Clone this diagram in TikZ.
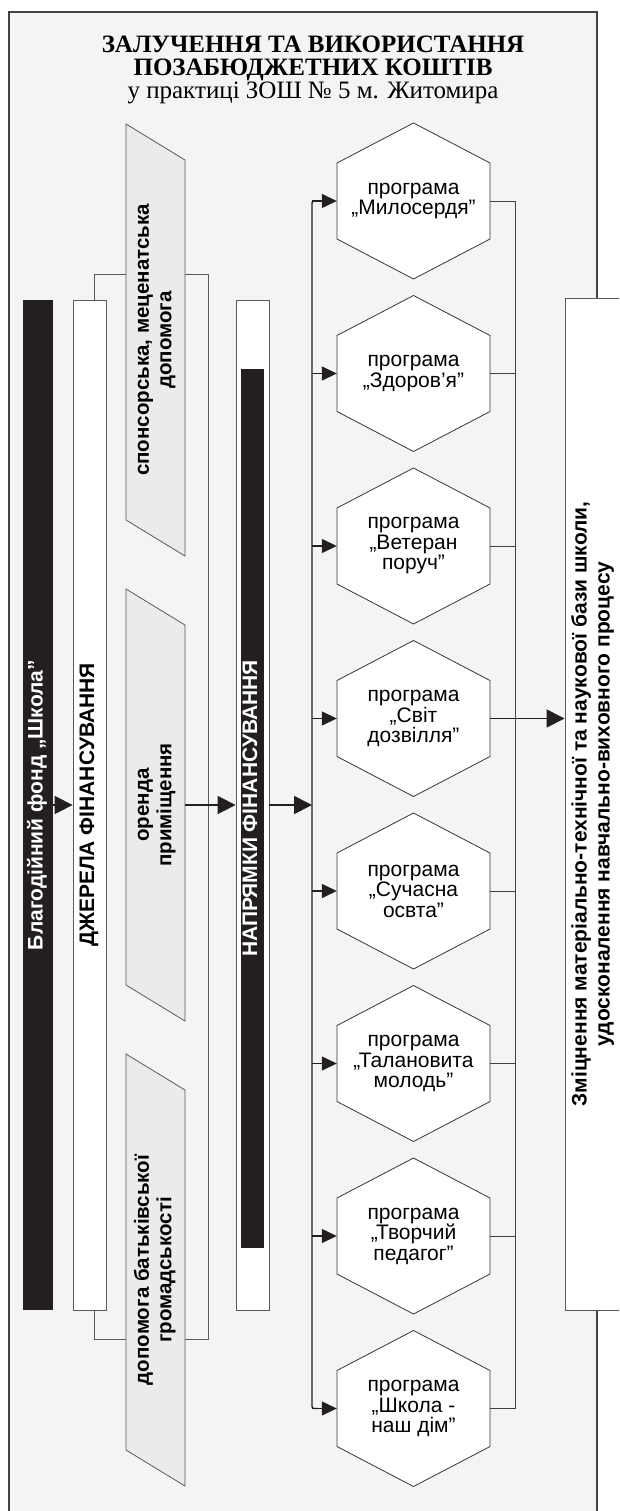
\documentclass[tikz,border=0pt]{standalone}
\usepackage{fontspec}
\setmainfont{Liberation Sans}
\newfontfamily\titlefont{Liberation Serif}
\usetikzlibrary{arrows.meta,calc}

\definecolor{ink}{HTML}{231F20}
\definecolor{edge}{HTML}{5A5A5A}
\definecolor{paper}{HTML}{F4F4F4}
\definecolor{srcfill}{HTML}{EBEBEB}

\newcommand\vlab[1]{\rotatebox{90}{\begin{tabular}{@{}c@{}}#1\end{tabular}}}

\tikzset{
  frame/.style={draw=ink!85, line width=1.3pt, fill=paper},
  thinline/.style={draw=edge, line width=0.8pt},
  whitebar/.style={draw=edge, line width=0.8pt, fill=white, inner sep=0pt,
    minimum width=33pt, minimum height=1010pt},
  blackbar/.style={fill=ink, text=white, inner sep=0pt,
    minimum width=30pt, minimum height=1010pt},
  bartext/.style={font=\bfseries\fontsize{21}{23}\selectfont},
  srcbox/.style={draw=edge, line width=0.8pt, fill=srcfill},
  srctext/.style={inner sep=0pt, minimum width=59pt, minimum height=360pt,
    font=\bfseries\fontsize{20.5}{22.5}\selectfont},
  hexa/.style={draw=ink!90, line width=0.8pt, fill=white},
  prog/.style={inner sep=0pt, minimum width=153pt, minimum height=76pt,
    align=center, font=\fontsize{21}{20.5}\selectfont},
  titletxt/.style={font=\titlefont\fontsize{25}{23}\selectfont,
    inner sep=0pt, align=center},
  bigarrow/.style={draw=ink, line width=1.6pt, -{Triangle[length=18pt,width=18pt]}},
  feed/.style={draw=ink, line width=1.4pt, -{Triangle[length=15pt,width=14pt]}},
  feedline/.style={draw=ink, line width=1.4pt},
  backline/.style={draw=ink!85, line width=0.9pt},
}

\begin{document}
\begin{tikzpicture}[x=1pt,y=-1pt]

  \newcommand\hexstep{172.5}
  \useasboundingbox (0,0) rectangle (619,1511);
  \clip (0,0) rectangle (619,1511);

  %% outer frame
  \filldraw[frame] (9,12) rectangle (597,1530);

  %% title
  \node[titletxt, anchor=north] (title) at (313,36)
    {\textbf{ЗАЛУЧЕННЯ ТА ВИКОРИСТАННЯ}\\
     \textbf{ПОЗАБЮДЖЕТНИХ КОШТІВ}\\
     у практиці ЗОШ № 5 м. Житомира};

  %% bracket behind the sources
  \draw[thinline] (94,274) rectangle (208,1339);

  %% fund and sources
  \node[blackbar, bartext] (fond) at (38,805) {\vlab{Благодійний фонд „Школа”}};
  \node[whitebar, bartext] (dzh) at (89.5,805) {\vlab{ДЖЕРЕЛА ФІНАНСУВАННЯ}};

  \foreach \c/\txt [count=\i from 0] in
    {340/{спонсорська, меценатська\\допомога},
     805/{оренда\\приміщення},
     1270/{допомога батьківської\\громадськості}}
  {
    \filldraw[srcbox] (126,\c-216) -- (185,\c-180) -- (185,\c+216)
      -- (126,\c+180) -- cycle;
    \node[srctext] (s\i) at (155.5,\c) {\vlab{\txt}};
  }

  %% directions
  \node[whitebar] (naprw) at (252.5,805) {};
  \node[blackbar, bartext, minimum width=23pt, minimum height=879pt]
    (napr) at (252.5,808.5) {\vlab{НАПРЯМКИ ФІНАНСУВАННЯ}};

  \coordinate (lcol) at (312,805);
  \coordinate (rcol) at (515,805);

  %% programmes
  \foreach \txt [count=\i from 0] in
    {{програма\\„Милосердя”},
     {програма\\„Здоров’я”},
     {програма\\„Ветеран\\поруч”},
     {програма\\„Світ\\дозвілля”},
     {програма\\„Сучасна\\освта”},
     {програма\\„Талановита\\молодь”},
     {програма\\„Творчий\\педагог”},
     {програма\\„Школа -\\наш дім”}}
  {
    \pgfmathsetmacro\yy{201+\hexstep*\i}
    \filldraw[hexa] (337,\yy-38) -- (413.5,\yy-78) -- (490,\yy-38)
      -- (490,\yy+38) -- (413.5,\yy+78) -- (337,\yy+38) -- cycle;
    \node[prog] (p\i) at (413.5,\yy) {\txt};
  }

  %% result
  \node[whitebar, bartext, minimum width=57pt, minimum height=1012pt]
    (result) at (593.5,804)
    {\vlab{Зміцнення матеріально-технічної та наукової бази школи,\\
      удосконалення навчально-виховного процесу}};

  %% arrows
  \draw[bigarrow] (fond.east) -- (dzh.west);
  \draw[bigarrow] (s1.east) -- (naprw.west);
  \draw[bigarrow] (naprw.east) -- (naprw.east -| lcol);

  \draw[feedline, rounded corners=2pt] ($(p0.west -| lcol)+(6,0)$)
    -- (p0.west -| lcol) -- (p7.west -| lcol) -- ++(6,0);
  \foreach \i in {0,...,7}
    \draw[feed] (p\i.west -| lcol) -- (p\i.west);

  \draw[backline] (p0.east) -- (p0.east -| rcol) -- (p7.east -| rcol) -- (p7.east);
  \foreach \i in {1,...,6}
    \draw[backline] (p\i.east) -- (p\i.east -| rcol);
  \draw[bigarrow, line width=1pt] (p3.east) -- (p3.east -| result.west);

\end{tikzpicture}
\end{document}
